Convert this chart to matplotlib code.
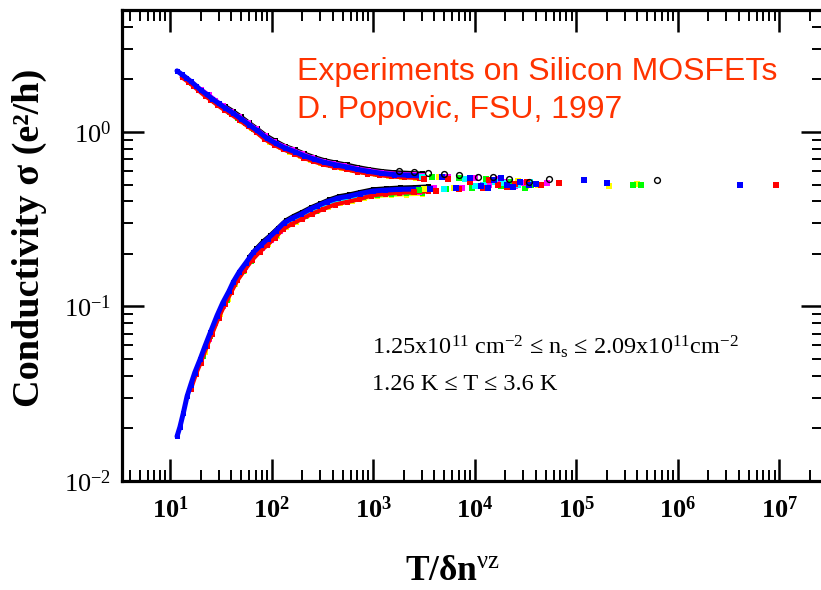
import numpy as np
import matplotlib
matplotlib.use('Agg')
import matplotlib.pyplot as plt
from matplotlib.ticker import LogLocator, FuncFormatter, NullFormatter, FixedLocator

plt.rcParams['font.family'] = ['Liberation Serif', 'DejaVu Serif']
plt.rcParams['mathtext.fontset'] = 'custom'
plt.rcParams['mathtext.rm'] = 'Liberation Serif'
plt.rcParams['mathtext.it'] = 'Liberation Serif:italic'
plt.rcParams['mathtext.bf'] = 'Liberation Serif:bold'

# ---------------- data ----------------
# upper (metallic) branch, dense part
blue_ux = [11.7, 13, 14.5, 16, 18, 20, 23, 26, 30, 35, 42, 50, 60, 72, 90, 110, 135, 170, 210, 260, 330, 420, 550, 700, 900, 1200, 1600, 2200, 3000]
blue_uy = [2.24, 2.14, 2.04, 1.95, 1.84, 1.74, 1.64, 1.55, 1.46, 1.37, 1.28, 1.19, 1.10, 1.02, 0.92, 0.86, 0.81, 0.77, 0.73, 0.70, 0.67, 0.65, 0.63, 0.61, 0.595, 0.58, 0.57, 0.565, 0.56]
red_ux = [13, 15, 17, 19, 22, 25, 29, 34, 40, 48, 58, 70, 85, 105, 130, 165, 205, 255, 320, 410, 540, 690, 880, 1150, 1500, 2000, 2800]
red_uy = [2.06, 1.94, 1.83, 1.73, 1.61, 1.53, 1.43, 1.34, 1.26, 1.17, 1.08, 1.00, 0.91, 0.845, 0.795, 0.752, 0.712, 0.68, 0.652, 0.632, 0.612, 0.592, 0.578, 0.566, 0.556, 0.55, 0.545]
black_ux = [35, 42, 50, 60, 72, 88, 108, 135, 170, 210, 260, 330, 420, 550, 700, 900, 1200, 1600, 2200, 3000]
black_uy = [1.41, 1.32, 1.23, 1.135, 1.05, 0.96, 0.895, 0.835, 0.795, 0.755, 0.722, 0.692, 0.672, 0.652, 0.632, 0.615, 0.60, 0.59, 0.585, 0.58]
magenta_ux = [20, 24, 28, 33, 40, 48, 58, 70, 86, 105, 130, 160, 200, 250, 320, 400, 520, 680, 900, 1200, 1700, 2500]
magenta_uy = [1.77, 1.64, 1.53, 1.425, 1.32, 1.23, 1.135, 1.05, 0.955, 0.885, 0.835, 0.795, 0.755, 0.715, 0.685, 0.665, 0.645, 0.622, 0.605, 0.59, 0.578, 0.572]
green_ux = [16, 19, 23, 27, 32, 38, 46, 55, 66, 80, 98, 120, 150, 190, 240, 300, 380, 500, 650, 850, 1100, 1500, 2100]
green_uy = [1.92, 1.76, 1.615, 1.50, 1.40, 1.31, 1.21, 1.13, 1.045, 0.96, 0.88, 0.83, 0.78, 0.74, 0.70, 0.675, 0.65, 0.627, 0.608, 0.59, 0.576, 0.565, 0.557]
yellow_ux = [40, 50, 62, 76, 95, 120, 150, 190, 240, 300, 380, 480, 620, 800, 1050, 1400, 1900, 2600]
yellow_uy = [1.27, 1.16, 1.06, 0.975, 0.88, 0.82, 0.77, 0.73, 0.69, 0.668, 0.643, 0.624, 0.605, 0.588, 0.572, 0.56, 0.553, 0.548]
cyan_ux = [100, 140, 200, 300, 450, 650, 950, 1400, 2000]
cyan_uy = [0.875, 0.805, 0.74, 0.685, 0.642, 0.614, 0.592, 0.574, 0.566]

# lower (insulating) branch, dense part
blue_lx = [11.7, 12.5, 13.5, 14.7, 16, 17.5, 19.8, 22, 25, 29, 33, 38, 42, 48, 56, 66, 78, 92, 110, 131, 160, 193, 240, 283, 350, 450, 572, 750, 1000, 1300, 1800, 2500, 3500]
blue_ly = [0.018, 0.0204, 0.0245, 0.0306, 0.0357, 0.0418, 0.050, 0.059, 0.0714, 0.0887, 0.105, 0.1224, 0.1387, 0.158, 0.1785, 0.204, 0.224, 0.245, 0.27, 0.30, 0.321, 0.337, 0.362, 0.377, 0.398, 0.418, 0.428, 0.444, 0.459, 0.464, 0.469, 0.471, 0.475]
red_lx = [16, 18, 20, 23, 26, 30, 35, 40, 46, 54, 64, 76, 90, 108, 130, 160, 200, 250, 320, 420, 550, 720, 950, 1300, 1800, 2500, 3500]
red_ly = [0.0335, 0.041, 0.0475, 0.059, 0.070, 0.086, 0.104, 0.121, 0.141, 0.161, 0.184, 0.205, 0.224, 0.248, 0.278, 0.298, 0.318, 0.34, 0.361, 0.384, 0.397, 0.411, 0.432, 0.442, 0.449, 0.452, 0.457]
black_lx = [60, 70, 82, 96, 115, 138, 165, 200, 245, 300, 370, 460, 580, 750, 1000, 1350, 1850, 2600, 3500]
black_ly = [0.193, 0.215, 0.237, 0.256, 0.283, 0.313, 0.332, 0.35, 0.372, 0.391, 0.412, 0.43, 0.44, 0.455, 0.471, 0.477, 0.482, 0.485, 0.489]
magenta_lx = [20, 24, 28, 33, 39, 46, 55, 66, 80, 98, 120, 150, 190, 240, 310, 400, 520, 700, 950, 1300, 1900, 2800]
magenta_ly = [0.049, 0.065, 0.080, 0.101, 0.122, 0.146, 0.169, 0.196, 0.216, 0.241, 0.271, 0.302, 0.322, 0.348, 0.37, 0.392, 0.408, 0.422, 0.438, 0.446, 0.451, 0.454]
green_lx = [18, 21, 25, 30, 36, 43, 52, 62, 75, 90, 110, 135, 170, 215, 275, 350, 450, 600, 800, 1100, 1500, 2100, 3000]
green_ly = [0.0415, 0.052, 0.0675, 0.088, 0.109, 0.134, 0.159, 0.183, 0.207, 0.229, 0.256, 0.288, 0.309, 0.33, 0.354, 0.376, 0.396, 0.408, 0.424, 0.435, 0.441, 0.445, 0.448]
yellow_lx = [22, 26, 31, 37, 44, 53, 64, 77, 93, 113, 140, 175, 220, 280, 360, 470, 620, 820, 1100, 1500, 2100, 3000]
yellow_ly = [0.055, 0.070, 0.090, 0.110, 0.135, 0.159, 0.185, 0.207, 0.228, 0.255, 0.285, 0.306, 0.328, 0.351, 0.372, 0.391, 0.404, 0.418, 0.428, 0.434, 0.438, 0.441]
cyan_lx = [150, 220, 330, 500, 750, 1100, 1700]
cyan_ly = [0.305, 0.342, 0.38, 0.41, 0.431, 0.446, 0.455]

# sparse tail (both branches merged)
black_tx = [1800, 2500, 3500, 5000, 7000, 10700, 15000, 22000, 34000, 54000, 630000]
black_ty = [0.60, 0.59, 0.585, 0.575, 0.57, 0.555, 0.555, 0.54, 0.52, 0.535, 0.53]
red_tx = [2500, 3200, 4200, 5500, 7000, 9000, 12000, 14000, 17000, 21000, 25000, 33000, 45000, 68000, 9.3e6]
red_ty = [0.455, 0.54, 0.46, 0.535, 0.47, 0.52, 0.48, 0.53, 0.50, 0.485, 0.505, 0.515, 0.495, 0.51, 0.50]
green_tx = [2800, 3800, 5200, 7000, 9500, 13000, 18000, 22000, 26000, 31000, 36000, 360000, 440000]
green_ty = [0.465, 0.55, 0.47, 0.545, 0.475, 0.535, 0.49, 0.52, 0.505, 0.48, 0.495, 0.50, 0.50]
magenta_tx = [3000, 4000, 5500, 7500, 10000, 12000, 14000, 17000, 20000, 25000, 30000, 40000, 52000]
magenta_ty = [0.56, 0.475, 0.555, 0.48, 0.545, 0.50, 0.495, 0.535, 0.52, 0.49, 0.51, 0.505, 0.51]
yellow_tx = [3200, 4500, 6200, 8500, 12000, 16000, 19000, 23000, 27000, 32000, 42000, 210000, 400000]
yellow_ty = [0.47, 0.555, 0.475, 0.54, 0.485, 0.53, 0.49, 0.50, 0.525, 0.49, 0.50, 0.49, 0.505]
cyan_tx = [3000, 5000, 8000, 10000, 12500, 16000, 19000, 27000, 35000]
cyan_ty = [0.55, 0.47, 0.535, 0.49, 0.50, 0.515, 0.51, 0.50, 0.515]
blue_tx = [3600, 4800, 6500, 9000, 11500, 13500, 15500, 18000, 21000, 24000, 28000, 34000, 40000, 120000, 200000, 4.1e6]
blue_ty = [0.47, 0.55, 0.48, 0.545, 0.49, 0.475, 0.53, 0.545, 0.50, 0.485, 0.515, 0.495, 0.505, 0.53, 0.51, 0.50]

x_major = [1e1, 1e2, 1e3, 1e4, 1e5, 1e6, 1e7]
y_major = [1e-2, 1e-1, 1e0]
title_lines = ["Experiments on Silicon MOSFETs", "D. Popovic, FSU, 1997"]
note_lines = [r"1.25x10$^{11}$ cm$^{-2}$ ≤ n$_{\mathrm{s}}$ ≤ 2.09x10$^{11}$cm$^{-2}$",
              "1.26 K ≤ T ≤ 3.6 K"]

# ---------------- figure ----------------
W, H = 821, 590
fig = plt.figure(figsize=(W / 100, H / 100), dpi=100)
ax = fig.add_axes([122 / W, 1 - 481 / H, (823 - 122) / W, (481 - 10) / H])
ax.set_xscale('log')
ax.set_yscale('log')
ax.set_xlim(3.36, 2.7e7)
ax.set_ylim(0.01, 5.0)

dense = [
    ('#000000', black_ux, black_uy, black_lx, black_ly, 2.6),
    ('#FFFF00', yellow_ux, yellow_uy, yellow_lx, yellow_ly, 2.6),
    ('#00FF00', green_ux, green_uy, green_lx, green_ly, 2.6),
    ('#FF00FF', magenta_ux, magenta_uy, magenta_lx, magenta_ly, 2.6),
    ('#00FFFF', cyan_ux, cyan_uy, cyan_lx, cyan_ly, 2.4),
    ('#FF0000', red_ux, red_uy, red_lx, red_ly, 3.0),
    ('#0000FF', blue_ux, blue_uy, blue_lx, blue_ly, 3.6),
]
for c, ux, uy, lx, ly, lw in dense:
    for xs, ys in ((ux, uy), (lx, ly)):
        ax.plot(xs, ys, '-', color=c, lw=lw, marker='s', ms=3.6, mew=0,
                solid_joinstyle='round', solid_capstyle='round')

tails = [
    ('#FFFF00', yellow_tx, yellow_ty),
    ('#00FF00', green_tx, green_ty),
    ('#FF00FF', magenta_tx, magenta_ty),
    ('#00FFFF', cyan_tx, cyan_ty),
    ('#FF0000', red_tx, red_ty),
    ('#0000FF', blue_tx, blue_ty),
]
for c, xs, ys in tails:
    ax.plot(xs, ys, 's', color=c, ms=4.2, mew=0, linestyle='none')
ax.plot(black_tx, black_ty, 'o', mfc='none', mec='#000000', ms=4.2, mew=1.0, linestyle='none')

# ticks
ax.xaxis.set_major_locator(FixedLocator(x_major))
ax.yaxis.set_major_locator(FixedLocator(y_major))
ax.xaxis.set_minor_locator(LogLocator(base=10, subs=np.arange(2, 10), numticks=300))
ax.yaxis.set_minor_locator(LogLocator(base=10, subs=np.arange(2, 10), numticks=300))
ax.xaxis.set_minor_formatter(NullFormatter())
ax.yaxis.set_minor_formatter(NullFormatter())
ax.xaxis.set_major_formatter(FuncFormatter(lambda v, p: r'$\mathbf{10^{%d}}$' % round(np.log10(v))))
ax.yaxis.set_major_formatter(FuncFormatter(lambda v, p: r'$\mathrm{10^{%d}}$' % round(np.log10(v))))
ax.tick_params(which='major', direction='in', length=16, width=1.8, top=True, right=True,
               labelsize=19, colors='black')
ax.tick_params(which='minor', direction='in', length=8, width=1.4, top=True, right=True)
ax.tick_params(axis='x', which='major', pad=11)
ax.tick_params(axis='y', which='major', pad=8)
for s in ax.spines.values():
    s.set_linewidth(2.3)

# labels
fig.text(29 / W, 1 - 238 / H, "Conductivity σ (e²/h)", rotation=90, ha='center', va='center',
         fontsize=27.5, fontweight='bold')
fig.text(405 / W, 1 - 580 / H, r'$\mathbf{T/δn}^{\mathrm{νz}}$', ha='left', va='baseline', fontsize=25.5)

# annotations
fig.text(297 / W, 1 - 80 / H, title_lines[0], ha='left', va='baseline', fontsize=23,
         family='Liberation Sans', color='#FF3300')
fig.text(297 / W, 1 - 118 / H, title_lines[1], ha='left', va='baseline', fontsize=23,
         family='Liberation Sans', color='#FF3300')
fig.text(372 / W, 1 - 354 / H, note_lines[0], ha='left', va='baseline', fontsize=17.5)
fig.text(372 / W, 1 - 390 / H, note_lines[1], ha='left', va='baseline', fontsize=17.5)

fig.savefig('out.png', dpi=100)
